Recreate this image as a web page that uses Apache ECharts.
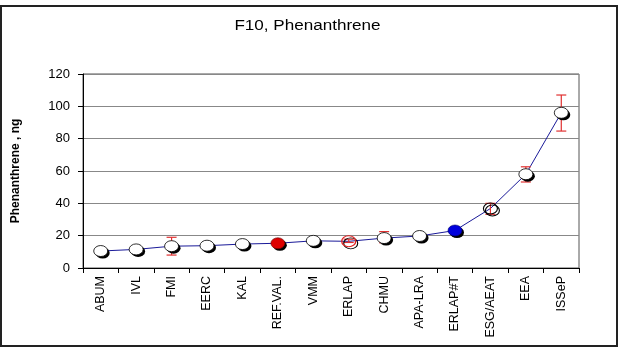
<!DOCTYPE html>
<html><head><meta charset="utf-8">
<script src="https://cdn.jsdelivr.net/npm/echarts@6/dist/echarts.min.js"></script>
<style>html,body{margin:0;padding:0;background:#fff}#c{width:620px;height:349px}</style>
</head><body><div id="c"></div>
<script>
const titleText = 'F10, Phenanthrene';
const yAxisName = 'Phenanthrene , ng';
const categories = ['ABUM','IVL','FMI','EERC','KAL','REF.VAL.','VMM','ERLAP','CHMU','APA-LRA','ERLAP#T','ESG/AEAT','EEA','ISSeP'];
const values = [10.5, 11.5, 13.5, 13.8, 14.8, 15.3, 16.8, 16.5, 18.5, 19.8, 23.2, 36.8, 58, 96];
const errLow = [null, null, 8, null, null, null, null, 15.8, 15.6, null, null, 33.2, 53.2, 84.7];
const errHigh = [null, null, 19, null, null, null, null, 17.8, 22.5, null, null, 40, 62.6, 107];
const yTicks = [0, 20, 40, 60, 80, 100, 120];

const fills = values.map((v, i) => {
  const c = categories[i];
  if (c === 'REF.VAL.') return {color: '#dd0000', borderColor: '#660000', borderWidth: 0.6, opacity: 1};
  if (c === 'ERLAP#T') return {color: '#0000dd', borderColor: '#000066', borderWidth: 0.6, opacity: 1};
  if (c === 'ERLAP') return {color: 'rgba(0,0,0,0)', borderColor: '#e02020', borderWidth: 1.2, opacity: 1};
  if (c === 'ESG/AEAT') return {color: 'rgba(0,0,0,0)', borderColor: '#000', borderWidth: 1, opacity: 1};
  return {color: '#ffffff', borderColor: '#000', borderWidth: 0.8, opacity: 1};
});
const shadowData = values.map((v, i) => {
  const c = categories[i];
  if (c === 'ERLAP' || c === 'ESG/AEAT') return {value: v, itemStyle: {color: 'rgba(0,0,0,0)', borderColor: '#000', borderWidth: 1, opacity: 1}};
  return {value: v, itemStyle: {color: '#000', opacity: 1}};
});
const topData = values.map((v, i) => ({value: v, itemStyle: fills[i]}));
const errData = categories.map((c, i) => errLow[i] == null ? null : [i, errLow[i], errHigh[i]]).filter(d => d);

const chart = echarts.init(document.getElementById('c'), null, {renderer: 'canvas'});
chart.setOption({
  animation: false,
  backgroundColor: '#fff',
  graphic: [
    {type: 'rect', shape: {x: 1, y: 6, width: 616, height: 340},
      style: {fill: 'none', stroke: '#222', lineWidth: 2}, z: 100},
    {type: 'text', x: 307.5, y: 26, scaleX: 1.22, z: 100,
      style: {text: titleText, fontFamily: 'Liberation Sans, Arial', fontSize: 14, fill: '#000',
        textAlign: 'center', textVerticalAlign: 'middle'}}
  ],
  grid: {left: 83, right: 41, top: 74, bottom: 81, show: true, borderColor: '#555', borderWidth: 1},
  xAxis: {type: 'category', data: categories, boundaryGap: true,
    axisLine: {lineStyle: {color: '#000', width: 1}},
    axisTick: {show: true, alignWithLabel: false, length: 5, lineStyle: {color: '#000'}},
    axisLabel: {rotate: 90, interval: 0, fontFamily: 'Liberation Sans, Arial', fontSize: 12.5, color: '#000', margin: 8}},
  yAxis: {type: 'value', min: yTicks[0], max: yTicks[yTicks.length - 1], interval: 20,
    name: yAxisName, nameLocation: 'middle', nameGap: 61, nameRotate: 90,
    nameTextStyle: {fontFamily: 'Liberation Sans, Arial', fontSize: 12, fontWeight: 'bold', color: '#000'},
    axisLine: {show: true, lineStyle: {color: '#000'}},
    axisTick: {show: true, length: 5, inside: false, lineStyle: {color: '#000'}},
    axisLabel: {fontFamily: 'Liberation Sans, Arial', fontSize: 13, color: '#000', margin: 13},
    splitLine: {lineStyle: {color: '#888', width: 1}}},
  series: [
    {type: 'line', data: values, symbol: 'none', lineStyle: {color: '#1a1a99', width: 1}, z: 2},
    {type: 'custom', data: errData, z: 3,
      renderItem: function (params, api) {
        const x = api.value(0);
        const lo = api.coord([x, api.value(1)]);
        const hi = api.coord([x, api.value(2)]);
        const w = 5;
        const st = {stroke: '#e03030', lineWidth: 1.2};
        return {type: 'group', children: [
          {type: 'line', shape: {x1: lo[0], y1: lo[1], x2: hi[0], y2: hi[1]}, style: st},
          {type: 'line', shape: {x1: lo[0] - w, y1: lo[1], x2: lo[0] + w, y2: lo[1]}, style: st},
          {type: 'line', shape: {x1: hi[0] - w, y1: hi[1], x2: hi[0] + w, y2: hi[1]}, style: st}
        ]};
      }},
    {type: 'scatter', data: shadowData, symbol: 'circle', symbolSize: [14, 11], symbolOffset: [2, 2], z: 4, silent: true,
      itemStyle: {opacity: 1}},
    {type: 'scatter', data: topData, symbol: 'circle', symbolSize: [14, 11], z: 5, silent: true,
      itemStyle: {opacity: 1}}
  ]
});
</script></body></html>
